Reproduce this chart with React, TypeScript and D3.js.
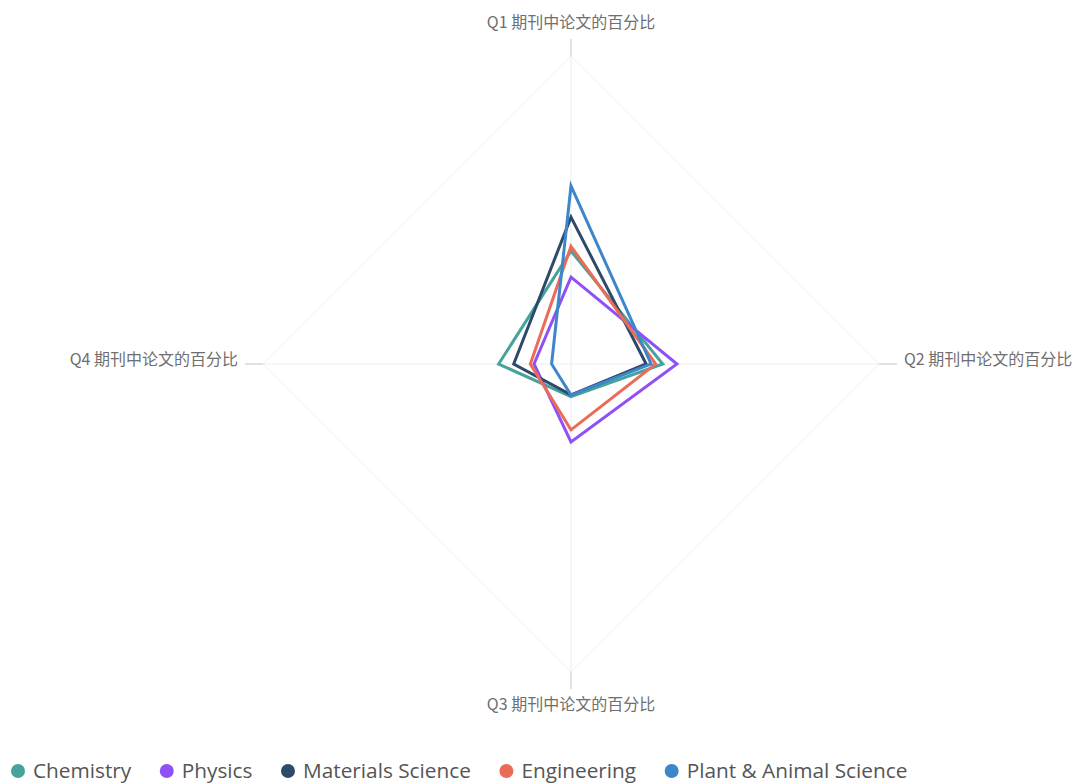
import React from "react";
import * as d3 from "d3";

const axes = ["Q1 期刊中论文的百分比", "Q2 期刊中论文的百分比", "Q3 期刊中论文的百分比", "Q4 期刊中论文的百分比"];
const seriesNames = ["Chemistry", "Physics", "Materials Science", "Engineering", "Plant & Animal Science"];
const seriesColors = ["#45a39b", "#8f50f5", "#2e4a6b", "#ec6b58", "#3d86c9"];
const chemistry = [36.7, 29.8, 10.6, 23.5];
const physics = [28.2, 34.4, 25.3, 12.0];
const materials = [47.7, 24.4, 10.0, 18.6];
const engineering = [38.2, 27.5, 21.4, 13.2];
const plant = [57.8, 26.0, 10.1, 6.3];
const seriesValues = [chemistry, physics, materials, engineering, plant];
const maxValue = 100;

const W = 1080;
const H = 783;
const cx = 571;
const cy = 364;
const R = 308;

function measure(text: string, font: string) {
  const c = document.createElement("canvas").getContext("2d");
  if (!c) return text.length * 10;
  c.font = font;
  return c.measureText(text).width;
}

export default function App() {
  const r = d3.scaleLinear().domain([0, maxValue]).range([0, R]);
  const angle = (i: number) => (i * Math.PI * 2) / axes.length; // 0 = up, clockwise
  const pt = (i: number, v: number): [number, number] => [
    cx + Math.sin(angle(i)) * r(v),
    cy - Math.cos(angle(i)) * r(v),
  ];
  const line = d3.line<[number, number]>().curve(d3.curveLinearClosed);
  const outer = axes.map((_, i) => pt(i, maxValue));

  const legendFamily = "'Open Sans', sans-serif";
  const legendSize = 20.8;
  let lx = 18;
  const legendItems = seriesNames.map((n, i) => {
    const x = lx;
    lx += 15 + measure(n, `${legendSize}px 'Open Sans'`) + 35.5;
    return { n, x, c: seriesColors[i] };
  });

  const labelFont = "'Noto Sans CJK SC', 'Noto Sans', sans-serif";
  const labelPos = [
    { x: cx, y: cy - R - 32, anchor: "middle" },
    { x: cx + R + 25, y: cy - 3, anchor: "start" },
    { x: cx, y: cy + R + 34, anchor: "middle" },
    { x: cx - R - 25, y: cy - 3, anchor: "end" },
  ];
  const tick = [
    [cx, cy - R, cx, cy - R - 17],
    [cx + R, cy, cx + R + 18, cy],
    [cx, cy + R, cx, cy + R + 17],
    [cx - R, cy, cx - R - 18, cy],
  ];

  return (
    <div style={{ position: "absolute", left: 0, top: 0 }}>
      <svg width={W} height={H} style={{ display: "block", background: "#fff" }}>
        <path d={line(outer) || ""} fill="none" stroke="#f0f0f0" strokeWidth={1} />
        {axes.map((_, i) => {
          const [x, y] = pt(i, maxValue);
          return <line key={"ax" + i} x1={cx} y1={cy} x2={x} y2={y} stroke="#ececec" strokeWidth={1} />;
        })}
        {tick.map((t, i) => (
          <line key={"tk" + i} x1={t[0]} y1={t[1]} x2={t[2]} y2={t[3]} stroke="#c4c4c4" strokeWidth={1} />
        ))}
        {axes.map((a, i) => (
          <text
            key={"lb" + i}
            x={labelPos[i].x}
            y={labelPos[i].y}
            textAnchor={labelPos[i].anchor as any}
            dominantBaseline="middle"
            fontFamily={labelFont}
            fontSize={16}
            fill="#6f6f6f"
          >
            {a}
          </text>
        ))}
        {seriesValues.map((vals, s) => (
          <path
            key={"s" + s}
            d={line(vals.map((v, i) => pt(i, v))) || ""}
            fill="none"
            stroke={seriesColors[s]}
            strokeWidth={3}
            strokeLinejoin="miter"
          />
        ))}
        {legendItems.map((it, i) => (
          <g key={"lg" + i}>
            <circle cx={it.x} cy={771} r={7} fill={it.c} />
            <text x={it.x + 15} y={778} fontFamily={legendFamily} fontSize={legendSize} fill="#555">
              {it.n}
            </text>
          </g>
        ))}
      </svg>
    </div>
  );
}
